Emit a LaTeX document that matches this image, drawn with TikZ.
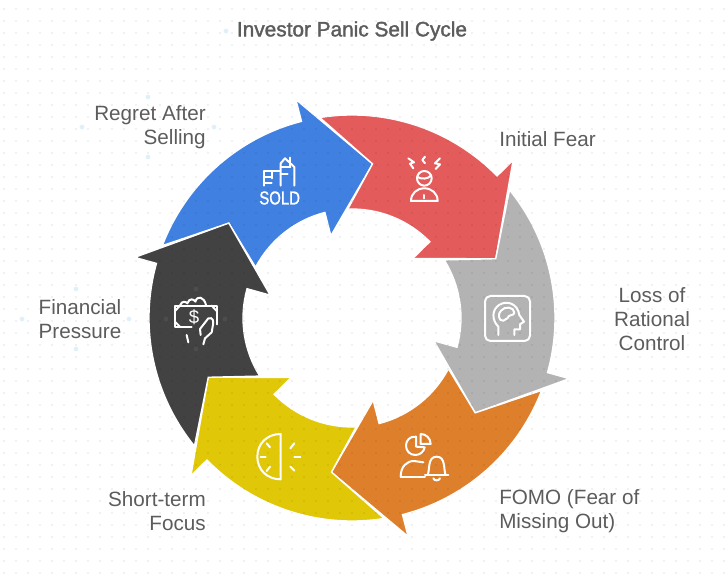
\documentclass[tikz,border=0pt]{standalone}
\usepackage{fontspec}
\setmainfont{Liberation Sans}
\newfontfamily\titlefont[FakeBold=1.6]{Liberation Sans}
\newfontfamily\iconfont[FakeBold=1.2]{Liberation Sans}
\definecolor{cblue}{RGB}{64,128,225}
\definecolor{cred}{RGB}{227,92,91}
\definecolor{cgray}{RGB}{179,179,179}
\definecolor{corange}{RGB}{222,127,44}
\definecolor{cyellow}{RGB}{224,200,8}
\definecolor{cblack}{RGB}{66,66,66}
\definecolor{ctext}{RGB}{92,92,92}
\definecolor{chandle}{RGB}{222,240,248}
\def\outerR{203}
\def\innerR{109}
\def\cyclearrow#1#2{\fill[#2,draw=white,line width=1pt,line join=miter]
	(#1+54.7:\outerR) arc[start angle=#1+54.7,end angle=#1,radius=\outerR]
	-- (#1:225.5) -- (#1-22:155.5) -- (#1:85) -- (#1:\innerR)
	arc[start angle=#1,end angle=#1+47.8,radius=\innerR]
	-- (#1+38:155.5) -- cycle;}
\tikzset{
	x=0.75pt,y=0.75pt,
	labl/.style={text=ctext,font=\fontsize{15.5}{18}\selectfont,inner sep=0pt},
	handle/.style={circle,fill=chandle,inner sep=0pt,minimum size=3.5pt},
	faint/.style={circle,fill=white,fill opacity=0.06,inner sep=0pt,minimum size=3.5pt},
	icon/.style={draw=white,line width=1.5pt,line cap=round,line join=round},
}
\begin{document}
\begin{tikzpicture}
\useasboundingbox (-352,-263) rectangle (373,318);
% FRECCE
\cyclearrow{104.4}{cblue}
\cyclearrow{44.4}{cred}
\cyclearrow{-15.6}{cgray}
\cyclearrow{-75.6}{corange}
\cyclearrow{-135.6}{cyellow}
\cyclearrow{164.4}{cblack}
% GRIGLIA PUNTI
\foreach \i in {0,...,60}{\foreach \j in {0,...,47}{
	\fill[black,fill opacity=0.11] (\i*12+4-352,318-\j*12-9) circle (0.9);
}}
% MANIGLIE
\node[handle] (h1) at (226-352,318-31) {};
\node[handle] (h2) at (82-352,318-127) {};
\node[handle] (h3) at (148-352,318-97) {};
\node[handle] (h4) at (214-352,318-127) {};
\node[handle] (h5) at (148-352,318-157) {};
\node[handle] (h6) at (22-352,0-1) {};
\node[handle] (h7) at (76-352,318-289) {};
\node[handle] (h8) at (129-352,0-1) {};
\node[handle] (h9) at (76-352,318-349) {};
\node[faint] (h10) at (166-352,0-1) {};
\node[faint] (h11) at (196-352,318-289) {};
\node[faint] (h12) at (225-352,0-1) {};
\node[faint] (h13) at (196-352,318-349) {};
% TESTI
\node (title) at (0,287) [text=ctext,inner sep=0pt,font=\fontsize{15.6}{18}\selectfont\titlefont]{Investor Panic Sell Cycle};
\node (regret) at (206-352,191) [labl,anchor=east,align=right]{Regret After\\Selling};
\node (fear) at (499-352,179) [labl,anchor=west,align=left]{Initial Fear};
\node (loss) at (652-352,-1) [labl,align=center]{Loss of\\Rational\\Control};
\node (fomo) at (499-352,-193) [labl,anchor=west,align=left]{FOMO (Fear of\\Missing Out)};
\node (short) at (206-352,-193) [labl,anchor=east,align=right]{Short-term\\Focus};
\node (pressure) at (80-352,-1) [labl,align=center]{Financial\\Pressure};
% ICONA SOLD
\begin{scope}[shift={(245-352,318-145)},x=0.25pt,y=-0.25pt]
\draw[icon] (57,122) -- (57,78) -- (105,78);
\draw[icon] (57,96) -- (80,96);
\draw[icon] (57,113) -- (80,113);
\draw[icon] (82,78) -- (82,100);
\draw[icon] (107,122) -- (107,55) -- (120,40) -- (148,66) -- (148,122);
\draw[icon] (136,38) -- (136,66);
\draw[icon] (107,66) -- (136,66);
\draw[icon] (107,88) -- (128,88);
\node (sold) at (104,159) [white,inner sep=0pt,xscale=0.8,font=\fontsize{14}{14}\selectfont\iconfont]{SOLD};
\end{scope}
% ICONA TESTA
\begin{scope}[shift={(395-352,318-145)},x=0.25pt,y=-0.25pt]
\draw[icon] (88,100) circle (22);
\draw[icon] (67,96) .. controls (80,103) and (98,103) .. (109,91);
\draw[icon] (40,40) -- (57,52) -- (45,56) -- (55,70);
\draw[icon] (90,35) -- (82,45) -- (90,55);
\draw[icon] (135,40) -- (120,55) -- (135,58) -- (122,72);
\draw[icon] (48,168) .. controls (48,145) and (66,130) .. (88,130) .. controls (110,130) and (128,145) .. (128,168) -- cycle;
\draw[icon] (88,150) -- (88,160);
\end{scope}
% ICONA CERVELLO
\begin{scope}[shift={(475-352,318-290)},x=0.25pt,y=-0.25pt]
\draw[icon,rounded corners=4pt] (30,18) rectangle (165,153);
\draw[icon] (70,135) -- (70,110) .. controls (50,90) and (50,60) .. (72,45) .. controls (95,30) and (128,40) .. (133,75) -- (147,95) -- (135,103) -- (135,118) -- (118,118) -- (118,135);
\draw[icon] (85,92) .. controls (70,95) and (68,70) .. (78,62) .. controls (88,48) and (118,50) .. (118,68) .. controls (118,78) and (100,72) .. (97,85) -- (85,92);
\end{scope}
% ICONA FOMO
\begin{scope}[shift={(390-352,318-425)},x=0.25pt,y=-0.25pt]
\draw[icon] (78,35) .. controls (58,33) and (48,48) .. (48,62) .. controls (48,78) and (60,90) .. (76,90) .. controls (90,90) and (102,80) .. (104,67) -- (78,65) -- cycle;
\draw[icon] (92,27) -- (92,57) -- (122,57) .. controls (122,40) and (108,27) .. (92,27);
\draw[icon] (32,155) .. controls (32,125) and (50,108) .. (72,108) -- (100,112);
\draw[icon] (32,155) -- (105,155);
\draw[icon] (105,150) -- (175,150);
\draw[icon] (113,150) .. controls (120,135) and (112,95) .. (140,95) .. controls (168,95) and (160,135) .. (167,150);
\draw[icon] (130,160) .. controls (132,168) and (148,168) .. (150,160);
\end{scope}
% ICONA MEZZO SOLE
\begin{scope}[shift={(245-352,318-420)},x=0.25pt,y=-0.25pt]
\draw[icon] (107,42) -- (107,178) .. controls (65,178) and (37,148) .. (37,110) .. controls (37,72) and (65,42) .. (107,42) -- cycle;
\draw[icon] (65,70) -- (75,82);
\draw[icon] (47,110) -- (62,110);
\draw[icon] (65,153) -- (75,140);
\draw[icon] (148,70) -- (136,85);
\draw[icon] (148,110) -- (166,110);
\draw[icon] (148,152) -- (136,140);
\end{scope}
% ICONA SOLDI
\begin{scope}[shift={(160-352,318-285)},x=0.25pt,y=-0.25pt]
\draw[icon] (170,118) -- (170,62) -- (45,62) -- (45,125) -- (95,125);
\draw[icon] (45,78) -- (60,62);
\draw[icon] (155,62) -- (170,78);
\draw[icon] (45,110) -- (60,125);
\draw[icon] (60,62) .. controls (66,45) and (78,50) .. (82,55) .. controls (88,38) and (102,42) .. (106,50) .. controls (112,30) and (132,35) .. (138,60);
\node (dollar) at (102,96) [white,inner sep=0pt,font=\fontsize{14}{14}\selectfont]{\$};
\draw[icon] (122,150) -- (120,132) -- (145,100) .. controls (160,95) and (162,110) .. (158,125) -- (155,142) -- (135,160) -- (130,178);
\draw[icon] (80,150) -- (85,172);
\end{scope}
\end{tikzpicture}
\end{document}
